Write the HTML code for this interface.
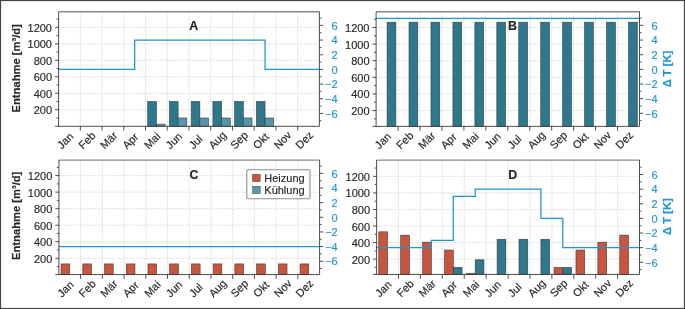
<!DOCTYPE html>
<html><head><meta charset="utf-8"><style>
html,body{margin:0;padding:0;background:#fff;}
svg{display:block;will-change:transform;}
text{font-family:"Liberation Sans",sans-serif;}
.t{font-size:11px;fill:#262626;stroke:#262626;stroke-width:0.15px;}
.r{fill:#1c96d4;stroke:#1c96d4;}
.b{font-size:12.4px;font-weight:bold;fill:#262626;stroke:#262626;stroke-width:0.15px;}
.yl{font-size:11.2px;font-weight:bold;stroke-width:0.15px;}
.lg{font-size:11px;fill:#262626;stroke:#262626;stroke-width:0.15px;}
</style></head><body>
<svg width="685" height="309" viewBox="0 0 685 309">
<rect x="0" y="0" width="685" height="309" fill="#fff"/>
<path d="M80.33 11.7V126.3M102.07 11.7V126.3M123.8 11.7V126.3M145.53 11.7V126.3M167.27 11.7V126.3M189 11.7V126.3M210.73 11.7V126.3M232.47 11.7V126.3M254.2 11.7V126.3M275.93 11.7V126.3M297.67 11.7V126.3M58.6 109.75H319.4M58.6 93.27H319.4M58.6 76.79H319.4M58.6 60.31H319.4M58.6 43.83H319.4M58.6 27.35H319.4" stroke="#dcdcdc" stroke-width="0.8" stroke-dasharray="2.6 0.9" fill="none"/>
<rect x="147.71" y="101.51" width="8.69" height="24.79" fill="#2e788d" stroke="#3a3a3a" stroke-width="0.6"/>
<rect x="156.4" y="124.17" width="8.69" height="2.13" fill="#5797a9" stroke="#3a3a3a" stroke-width="0.6"/>
<rect x="169.44" y="101.51" width="8.69" height="24.79" fill="#2e788d" stroke="#3a3a3a" stroke-width="0.6"/>
<rect x="178.13" y="117.99" width="8.69" height="8.31" fill="#5797a9" stroke="#3a3a3a" stroke-width="0.6"/>
<rect x="191.17" y="101.51" width="8.69" height="24.79" fill="#2e788d" stroke="#3a3a3a" stroke-width="0.6"/>
<rect x="199.87" y="117.99" width="8.69" height="8.31" fill="#5797a9" stroke="#3a3a3a" stroke-width="0.6"/>
<rect x="212.91" y="101.51" width="8.69" height="24.79" fill="#2e788d" stroke="#3a3a3a" stroke-width="0.6"/>
<rect x="221.6" y="117.99" width="8.69" height="8.31" fill="#5797a9" stroke="#3a3a3a" stroke-width="0.6"/>
<rect x="234.64" y="101.51" width="8.69" height="24.79" fill="#2e788d" stroke="#3a3a3a" stroke-width="0.6"/>
<rect x="243.33" y="117.99" width="8.69" height="8.31" fill="#5797a9" stroke="#3a3a3a" stroke-width="0.6"/>
<rect x="256.37" y="101.51" width="8.69" height="24.79" fill="#2e788d" stroke="#3a3a3a" stroke-width="0.6"/>
<rect x="265.07" y="117.99" width="8.69" height="8.31" fill="#5797a9" stroke="#3a3a3a" stroke-width="0.6"/>
<polyline points="58.6,69.42 134.67,69.42 134.67,40.07 265.07,40.07 265.07,69.42 319.4,69.42" fill="none" stroke="#1c96d4" stroke-width="1.25" stroke-linejoin="miter"/>
<path d="M58.6 126.3h-3.6M58.6 109.75h-3.6M58.6 93.27h-3.6M58.6 76.79h-3.6M58.6 60.31h-3.6M58.6 43.83h-3.6M58.6 27.35h-3.6M58.6 117.99h-2M58.6 101.51h-2M58.6 85.03h-2M58.6 68.55h-2M58.6 52.07h-2M58.6 35.59h-2M58.6 19.11h-2M319.4 113.45h3.6M319.4 98.78h3.6M319.4 84.1h3.6M319.4 69.42h3.6M319.4 54.75h3.6M319.4 40.07h3.6M319.4 25.4h3.6M319.4 120.79h2M319.4 106.11h2M319.4 91.44h2M319.4 76.76h2M319.4 62.09h2M319.4 47.41h2M319.4 32.74h2M319.4 18.06h2M80.33 126.3v4.3M102.07 126.3v4.3M123.8 126.3v4.3M145.53 126.3v4.3M167.27 126.3v4.3M189 126.3v4.3M210.73 126.3v4.3M232.47 126.3v4.3M254.2 126.3v4.3M275.93 126.3v4.3M297.67 126.3v4.3" stroke="#3a3a3a" stroke-width="0.9" fill="none"/>
<path d="M58.6 11.8H319.4" stroke="#8a8a8a" stroke-width="1.4" fill="none"/>
<path d="M58.6 11.7V126.3H319.4V11.7" stroke="#3a3a3a" stroke-width="0.9" fill="none"/>
<text x="52" y="114.25" text-anchor="end" class="t">200</text>
<text x="52" y="97.77" text-anchor="end" class="t">400</text>
<text x="52" y="81.29" text-anchor="end" class="t">600</text>
<text x="52" y="64.81" text-anchor="end" class="t">800</text>
<text x="52" y="48.33" text-anchor="end" class="t">1000</text>
<text x="52" y="31.85" text-anchor="end" class="t">1200</text>
<text x="337.5" y="117.65" text-anchor="end" class="t r">−6</text>
<text x="337.5" y="102.98" text-anchor="end" class="t r">−4</text>
<text x="337.5" y="88.3" text-anchor="end" class="t r">−2</text>
<text x="337.5" y="73.62" text-anchor="end" class="t r">0</text>
<text x="337.5" y="58.95" text-anchor="end" class="t r">2</text>
<text x="337.5" y="44.27" text-anchor="end" class="t r">4</text>
<text x="337.5" y="29.6" text-anchor="end" class="t r">6</text>
<text x="189.3" y="30.4" class="b">A</text>
<text transform="translate(61.69 149.65) rotate(-45)" class="t">Jan</text>
<text transform="translate(82.99 149.65) rotate(-45)" class="t">Feb</text>
<text transform="translate(104.73 149.65) rotate(-45)" class="t">Mär</text>
<text transform="translate(127.11 149.65) rotate(-45)" class="t">Apr</text>
<text transform="translate(148.63 149.65) rotate(-45)" class="t">Mai</text>
<text transform="translate(170.36 149.65) rotate(-45)" class="t">Jun</text>
<text transform="translate(193.39 149.65) rotate(-45)" class="t">Jul</text>
<text transform="translate(213.17 149.65) rotate(-45)" class="t">Aug</text>
<text transform="translate(234.9 149.65) rotate(-45)" class="t">Sep</text>
<text transform="translate(257.51 149.65) rotate(-45)" class="t">Okt</text>
<text transform="translate(278.38 149.65) rotate(-45)" class="t">Nov</text>
<text transform="translate(300.11 149.65) rotate(-45)" class="t">Dez</text>
<path d="M398.05 11.7V126.35M420 11.7V126.35M441.95 11.7V126.35M463.9 11.7V126.35M485.85 11.7V126.35M507.8 11.7V126.35M529.75 11.7V126.35M551.7 11.7V126.35M573.65 11.7V126.35M595.6 11.7V126.35M617.55 11.7V126.35M376.1 110.5H639.5M376.1 93.9H639.5M376.1 77.3H639.5M376.1 60.7H639.5M376.1 44.1H639.5M376.1 27.5H639.5" stroke="#dcdcdc" stroke-width="0.8" stroke-dasharray="2.6 0.9" fill="none"/>
<rect x="387.08" y="22.19" width="8.78" height="104.16" fill="#2e788d" stroke="#3a3a3a" stroke-width="0.6"/>
<rect x="409.03" y="22.19" width="8.78" height="104.16" fill="#2e788d" stroke="#3a3a3a" stroke-width="0.6"/>
<rect x="430.98" y="22.19" width="8.78" height="104.16" fill="#2e788d" stroke="#3a3a3a" stroke-width="0.6"/>
<rect x="452.93" y="22.19" width="8.78" height="104.16" fill="#2e788d" stroke="#3a3a3a" stroke-width="0.6"/>
<rect x="474.88" y="22.19" width="8.78" height="104.16" fill="#2e788d" stroke="#3a3a3a" stroke-width="0.6"/>
<rect x="496.83" y="22.19" width="8.78" height="104.16" fill="#2e788d" stroke="#3a3a3a" stroke-width="0.6"/>
<rect x="518.77" y="22.19" width="8.78" height="104.16" fill="#2e788d" stroke="#3a3a3a" stroke-width="0.6"/>
<rect x="540.73" y="22.19" width="8.78" height="104.16" fill="#2e788d" stroke="#3a3a3a" stroke-width="0.6"/>
<rect x="562.67" y="22.19" width="8.78" height="104.16" fill="#2e788d" stroke="#3a3a3a" stroke-width="0.6"/>
<rect x="584.62" y="22.19" width="8.78" height="104.16" fill="#2e788d" stroke="#3a3a3a" stroke-width="0.6"/>
<rect x="606.58" y="22.19" width="8.78" height="104.16" fill="#2e788d" stroke="#3a3a3a" stroke-width="0.6"/>
<rect x="628.52" y="22.19" width="8.78" height="104.16" fill="#2e788d" stroke="#3a3a3a" stroke-width="0.6"/>
<polyline points="376.1,18.33 639.5,18.33" fill="none" stroke="#1c96d4" stroke-width="1.25" stroke-linejoin="miter"/>
<path d="M376.1 126.35h-3.6M376.1 110.5h-3.6M376.1 93.9h-3.6M376.1 77.3h-3.6M376.1 60.7h-3.6M376.1 44.1h-3.6M376.1 27.5h-3.6M376.1 118.8h-2M376.1 102.2h-2M376.1 85.6h-2M376.1 69h-2M376.1 52.4h-2M376.1 35.8h-2M376.1 19.2h-2M639.5 113.3h3.6M639.5 98.65h3.6M639.5 84h3.6M639.5 69.35h3.6M639.5 54.7h3.6M639.5 40.05h3.6M639.5 25.4h3.6M639.5 120.62h2M639.5 105.97h2M639.5 91.32h2M639.5 76.67h2M639.5 62.02h2M639.5 47.37h2M639.5 32.72h2M639.5 18.07h2M398.05 126.35v4.3M420 126.35v4.3M441.95 126.35v4.3M463.9 126.35v4.3M485.85 126.35v4.3M507.8 126.35v4.3M529.75 126.35v4.3M551.7 126.35v4.3M573.65 126.35v4.3M595.6 126.35v4.3M617.55 126.35v4.3" stroke="#3a3a3a" stroke-width="0.9" fill="none"/>
<path d="M376.1 11.8H639.5" stroke="#8a8a8a" stroke-width="1.4" fill="none"/>
<path d="M376.1 11.7V126.35H639.5V11.7" stroke="#3a3a3a" stroke-width="0.9" fill="none"/>
<text x="369.5" y="115" text-anchor="end" class="t">200</text>
<text x="369.5" y="98.4" text-anchor="end" class="t">400</text>
<text x="369.5" y="81.8" text-anchor="end" class="t">600</text>
<text x="369.5" y="65.2" text-anchor="end" class="t">800</text>
<text x="369.5" y="48.6" text-anchor="end" class="t">1000</text>
<text x="369.5" y="32" text-anchor="end" class="t">1200</text>
<text x="657.6" y="117.5" text-anchor="end" class="t r">−6</text>
<text x="657.6" y="102.85" text-anchor="end" class="t r">−4</text>
<text x="657.6" y="88.2" text-anchor="end" class="t r">−2</text>
<text x="657.6" y="73.55" text-anchor="end" class="t r">0</text>
<text x="657.6" y="58.9" text-anchor="end" class="t r">2</text>
<text x="657.6" y="44.25" text-anchor="end" class="t r">4</text>
<text x="657.6" y="29.6" text-anchor="end" class="t r">6</text>
<text x="508.1" y="30.4" class="b">B</text>
<text transform="translate(379.3 149.7) rotate(-45)" class="t">Jan</text>
<text transform="translate(400.82 149.7) rotate(-45)" class="t">Feb</text>
<text transform="translate(422.77 149.7) rotate(-45)" class="t">Mär</text>
<text transform="translate(445.37 149.7) rotate(-45)" class="t">Apr</text>
<text transform="translate(467.1 149.7) rotate(-45)" class="t">Mai</text>
<text transform="translate(489.05 149.7) rotate(-45)" class="t">Jun</text>
<text transform="translate(512.3 149.7) rotate(-45)" class="t">Jul</text>
<text transform="translate(532.3 149.7) rotate(-45)" class="t">Aug</text>
<text transform="translate(554.25 149.7) rotate(-45)" class="t">Sep</text>
<text transform="translate(577.07 149.7) rotate(-45)" class="t">Okt</text>
<text transform="translate(598.15 149.7) rotate(-45)" class="t">Nov</text>
<text transform="translate(620.1 149.7) rotate(-45)" class="t">Dez</text>
<path d="M80.62 160V274.55M102.35 160V274.55M124.08 160V274.55M145.8 160V274.55M167.53 160V274.55M189.25 160V274.55M210.98 160V274.55M232.7 160V274.55M254.43 160V274.55M276.15 160V274.55M297.88 160V274.55M58.9 258.3H319.6M58.9 241.76H319.6M58.9 225.22H319.6M58.9 208.68H319.6M58.9 192.14H319.6M58.9 175.6H319.6" stroke="#dcdcdc" stroke-width="0.8" stroke-dasharray="2.6 0.9" fill="none"/>
<rect x="61.07" y="263.92" width="8.69" height="10.63" fill="#c8553d" stroke="#3a3a3a" stroke-width="0.6"/>
<rect x="82.8" y="263.92" width="8.69" height="10.63" fill="#c8553d" stroke="#3a3a3a" stroke-width="0.6"/>
<rect x="104.52" y="263.92" width="8.69" height="10.63" fill="#c8553d" stroke="#3a3a3a" stroke-width="0.6"/>
<rect x="126.25" y="263.92" width="8.69" height="10.63" fill="#c8553d" stroke="#3a3a3a" stroke-width="0.6"/>
<rect x="147.97" y="263.92" width="8.69" height="10.63" fill="#c8553d" stroke="#3a3a3a" stroke-width="0.6"/>
<rect x="169.7" y="263.92" width="8.69" height="10.63" fill="#c8553d" stroke="#3a3a3a" stroke-width="0.6"/>
<rect x="191.42" y="263.92" width="8.69" height="10.63" fill="#c8553d" stroke="#3a3a3a" stroke-width="0.6"/>
<rect x="213.15" y="263.92" width="8.69" height="10.63" fill="#c8553d" stroke="#3a3a3a" stroke-width="0.6"/>
<rect x="234.87" y="263.92" width="8.69" height="10.63" fill="#c8553d" stroke="#3a3a3a" stroke-width="0.6"/>
<rect x="256.6" y="263.92" width="8.69" height="10.63" fill="#c8553d" stroke="#3a3a3a" stroke-width="0.6"/>
<rect x="278.32" y="263.92" width="8.69" height="10.63" fill="#c8553d" stroke="#3a3a3a" stroke-width="0.6"/>
<rect x="300.05" y="263.92" width="8.69" height="10.63" fill="#c8553d" stroke="#3a3a3a" stroke-width="0.6"/>
<polyline points="58.9,246.57 319.6,246.57" fill="none" stroke="#1c96d4" stroke-width="1.25" stroke-linejoin="miter"/>
<path d="M58.9 274.55h-3.6M58.9 258.3h-3.6M58.9 241.76h-3.6M58.9 225.22h-3.6M58.9 208.68h-3.6M58.9 192.14h-3.6M58.9 175.6h-3.6M58.9 266.57h-2M58.9 250.03h-2M58.9 233.49h-2M58.9 216.95h-2M58.9 200.41h-2M58.9 183.87h-2M58.9 167.33h-2M319.6 261.2h3.6M319.6 246.57h3.6M319.6 231.93h3.6M319.6 217.3h3.6M319.6 202.67h3.6M319.6 188.03h3.6M319.6 173.4h3.6M319.6 268.52h2M319.6 253.88h2M319.6 239.25h2M319.6 224.62h2M319.6 209.98h2M319.6 195.35h2M319.6 180.72h2M319.6 166.08h2M80.62 274.55v4.3M102.35 274.55v4.3M124.08 274.55v4.3M145.8 274.55v4.3M167.53 274.55v4.3M189.25 274.55v4.3M210.98 274.55v4.3M232.7 274.55v4.3M254.43 274.55v4.3M276.15 274.55v4.3M297.88 274.55v4.3" stroke="#3a3a3a" stroke-width="0.9" fill="none"/>
<path d="M58.9 160.1H319.6" stroke="#8a8a8a" stroke-width="1.4" fill="none"/>
<path d="M58.9 160V274.55H319.6V160" stroke="#3a3a3a" stroke-width="0.9" fill="none"/>
<text x="52.3" y="262.8" text-anchor="end" class="t">200</text>
<text x="52.3" y="246.26" text-anchor="end" class="t">400</text>
<text x="52.3" y="229.72" text-anchor="end" class="t">600</text>
<text x="52.3" y="213.18" text-anchor="end" class="t">800</text>
<text x="52.3" y="196.64" text-anchor="end" class="t">1000</text>
<text x="52.3" y="180.1" text-anchor="end" class="t">1200</text>
<text x="337.7" y="265.4" text-anchor="end" class="t r">−6</text>
<text x="337.7" y="250.77" text-anchor="end" class="t r">−4</text>
<text x="337.7" y="236.13" text-anchor="end" class="t r">−2</text>
<text x="337.7" y="221.5" text-anchor="end" class="t r">0</text>
<text x="337.7" y="206.87" text-anchor="end" class="t r">2</text>
<text x="337.7" y="192.23" text-anchor="end" class="t r">4</text>
<text x="337.7" y="177.6" text-anchor="end" class="t r">6</text>
<text x="189.55" y="178.7" class="b">C</text>
<text transform="translate(61.98 297.9) rotate(-45)" class="t">Jan</text>
<text transform="translate(83.28 297.9) rotate(-45)" class="t">Feb</text>
<text transform="translate(105.01 297.9) rotate(-45)" class="t">Mär</text>
<text transform="translate(127.38 297.9) rotate(-45)" class="t">Apr</text>
<text transform="translate(148.89 297.9) rotate(-45)" class="t">Mai</text>
<text transform="translate(170.61 297.9) rotate(-45)" class="t">Jun</text>
<text transform="translate(193.63 297.9) rotate(-45)" class="t">Jul</text>
<text transform="translate(213.41 297.9) rotate(-45)" class="t">Aug</text>
<text transform="translate(235.13 297.9) rotate(-45)" class="t">Sep</text>
<text transform="translate(257.73 297.9) rotate(-45)" class="t">Okt</text>
<text transform="translate(278.59 297.9) rotate(-45)" class="t">Nov</text>
<text transform="translate(300.31 297.9) rotate(-45)" class="t">Dez</text>
<path d="M398.51 160V274.45M420.42 160V274.45M442.33 160V274.45M464.23 160V274.45M486.14 160V274.45M508.05 160V274.45M529.96 160V274.45M551.87 160V274.45M573.77 160V274.45M595.68 160V274.45M617.59 160V274.45M376.6 259.15H639.5M376.6 242.59H639.5M376.6 226.03H639.5M376.6 209.47H639.5M376.6 192.91H639.5M376.6 176.35H639.5" stroke="#dcdcdc" stroke-width="0.8" stroke-dasharray="2.6 0.9" fill="none"/>
<rect x="378.79" y="231.83" width="8.76" height="42.62" fill="#c8553d" stroke="#3a3a3a" stroke-width="0.6"/>
<rect x="400.7" y="235.14" width="8.76" height="39.31" fill="#c8553d" stroke="#3a3a3a" stroke-width="0.6"/>
<rect x="422.61" y="242.18" width="8.76" height="32.27" fill="#c8553d" stroke="#3a3a3a" stroke-width="0.6"/>
<rect x="444.52" y="250.04" width="8.76" height="24.41" fill="#c8553d" stroke="#3a3a3a" stroke-width="0.6"/>
<rect x="453.28" y="267.43" width="8.76" height="7.02" fill="#2e788d" stroke="#3a3a3a" stroke-width="0.6"/>
<rect x="466.42" y="273.23" width="8.76" height="1.22" fill="#c8553d" stroke="#3a3a3a" stroke-width="0.6"/>
<rect x="475.19" y="259.81" width="8.76" height="14.64" fill="#2e788d" stroke="#3a3a3a" stroke-width="0.6"/>
<rect x="497.1" y="239.28" width="8.76" height="35.17" fill="#2e788d" stroke="#3a3a3a" stroke-width="0.6"/>
<rect x="519" y="239.28" width="8.76" height="35.17" fill="#2e788d" stroke="#3a3a3a" stroke-width="0.6"/>
<rect x="540.91" y="239.28" width="8.76" height="35.17" fill="#2e788d" stroke="#3a3a3a" stroke-width="0.6"/>
<rect x="554.06" y="267.43" width="8.76" height="7.02" fill="#c8553d" stroke="#3a3a3a" stroke-width="0.6"/>
<rect x="562.82" y="267.43" width="8.76" height="7.02" fill="#2e788d" stroke="#3a3a3a" stroke-width="0.6"/>
<rect x="575.97" y="250.04" width="8.76" height="24.41" fill="#c8553d" stroke="#3a3a3a" stroke-width="0.6"/>
<rect x="597.87" y="242.18" width="8.76" height="32.27" fill="#c8553d" stroke="#3a3a3a" stroke-width="0.6"/>
<rect x="619.78" y="235.14" width="8.76" height="39.31" fill="#c8553d" stroke="#3a3a3a" stroke-width="0.6"/>
<polyline points="376.6,247.67 431.37,247.67 431.37,240.35 453.28,240.35 453.28,196.45 475.19,196.45 475.19,189.13 540.91,189.13 540.91,218.4 562.82,218.4 562.82,247.67 639.5,247.67" fill="none" stroke="#1c96d4" stroke-width="1.25" stroke-linejoin="miter"/>
<path d="M376.6 274.45h-3.6M376.6 259.15h-3.6M376.6 242.59h-3.6M376.6 226.03h-3.6M376.6 209.47h-3.6M376.6 192.91h-3.6M376.6 176.35h-3.6M376.6 267.43h-2M376.6 250.87h-2M376.6 234.31h-2M376.6 217.75h-2M376.6 201.19h-2M376.6 184.63h-2M376.6 168.07h-2M639.5 262.3h3.6M639.5 247.67h3.6M639.5 233.03h3.6M639.5 218.4h3.6M639.5 203.77h3.6M639.5 189.13h3.6M639.5 174.5h3.6M639.5 269.62h2M639.5 254.98h2M639.5 240.35h2M639.5 225.72h2M639.5 211.08h2M639.5 196.45h2M639.5 181.82h2M639.5 167.18h2M398.51 274.45v4.3M420.42 274.45v4.3M442.33 274.45v4.3M464.23 274.45v4.3M486.14 274.45v4.3M508.05 274.45v4.3M529.96 274.45v4.3M551.87 274.45v4.3M573.77 274.45v4.3M595.68 274.45v4.3M617.59 274.45v4.3" stroke="#3a3a3a" stroke-width="0.9" fill="none"/>
<path d="M376.6 160.1H639.5" stroke="#8a8a8a" stroke-width="1.4" fill="none"/>
<path d="M376.6 160V274.45H639.5V160" stroke="#3a3a3a" stroke-width="0.9" fill="none"/>
<text x="370" y="263.65" text-anchor="end" class="t">200</text>
<text x="370" y="247.09" text-anchor="end" class="t">400</text>
<text x="370" y="230.53" text-anchor="end" class="t">600</text>
<text x="370" y="213.97" text-anchor="end" class="t">800</text>
<text x="370" y="197.41" text-anchor="end" class="t">1000</text>
<text x="370" y="180.85" text-anchor="end" class="t">1200</text>
<text x="657.6" y="266.5" text-anchor="end" class="t r">−6</text>
<text x="657.6" y="251.87" text-anchor="end" class="t r">−4</text>
<text x="657.6" y="237.23" text-anchor="end" class="t r">−2</text>
<text x="657.6" y="222.6" text-anchor="end" class="t r">0</text>
<text x="657.6" y="207.97" text-anchor="end" class="t r">2</text>
<text x="657.6" y="193.33" text-anchor="end" class="t r">4</text>
<text x="657.6" y="178.7" text-anchor="end" class="t r">6</text>
<text x="508.35" y="178.7" class="b">D</text>
<text transform="translate(379.78 297.8) rotate(-45)" class="t">Jan</text>
<text transform="translate(401.25 297.8) rotate(-45)" class="t">Feb</text>
<text transform="translate(423.16 297.8) rotate(-45)" class="t">Mär</text>
<text transform="translate(445.72 297.8) rotate(-45)" class="t">Apr</text>
<text transform="translate(467.41 297.8) rotate(-45)" class="t">Mai</text>
<text transform="translate(489.32 297.8) rotate(-45)" class="t">Jun</text>
<text transform="translate(512.53 297.8) rotate(-45)" class="t">Jul</text>
<text transform="translate(532.48 297.8) rotate(-45)" class="t">Aug</text>
<text transform="translate(554.39 297.8) rotate(-45)" class="t">Sep</text>
<text transform="translate(577.17 297.8) rotate(-45)" class="t">Okt</text>
<text transform="translate(598.21 297.8) rotate(-45)" class="t">Nov</text>
<text transform="translate(620.12 297.8) rotate(-45)" class="t">Dez</text>
<text transform="translate(20.2 68.3) rotate(-90)" text-anchor="middle" class="yl" fill="#262626" stroke="#262626">Entnahme [m³/d]</text>
<text transform="translate(20.2 215.8) rotate(-90)" text-anchor="middle" class="yl" fill="#262626" stroke="#262626">Entnahme [m³/d]</text>
<text transform="translate(671.3 69) rotate(-90)" text-anchor="middle" class="yl" fill="#1c96d4" stroke="#1c96d4">Δ T [K]</text>
<text transform="translate(671.3 216.6) rotate(-90)" text-anchor="middle" class="yl" fill="#1c96d4" stroke="#1c96d4">Δ T [K]</text>
<rect x="246.8" y="169.8" width="63.2" height="29" rx="1.2" fill="#fff" fill-opacity="0.92" stroke="#8a8a8a" stroke-width="1.1"/>
<rect x="252.4" y="174.2" width="7.9" height="7.5" fill="#c8553d" stroke="#3a3a3a" stroke-width="0.4"/>
<rect x="252.4" y="186.2" width="7.9" height="7.5" fill="#5797a9" stroke="#3a3a3a" stroke-width="0.4"/>
<text x="264.3" y="181.5" class="lg">Heizung</text>
<text x="264.3" y="193.9" class="lg">Kühlung</text>
<rect x="0.5" y="0.5" width="684" height="308" fill="none" stroke="#444" stroke-width="1.2"/>
</svg>
</body></html>
